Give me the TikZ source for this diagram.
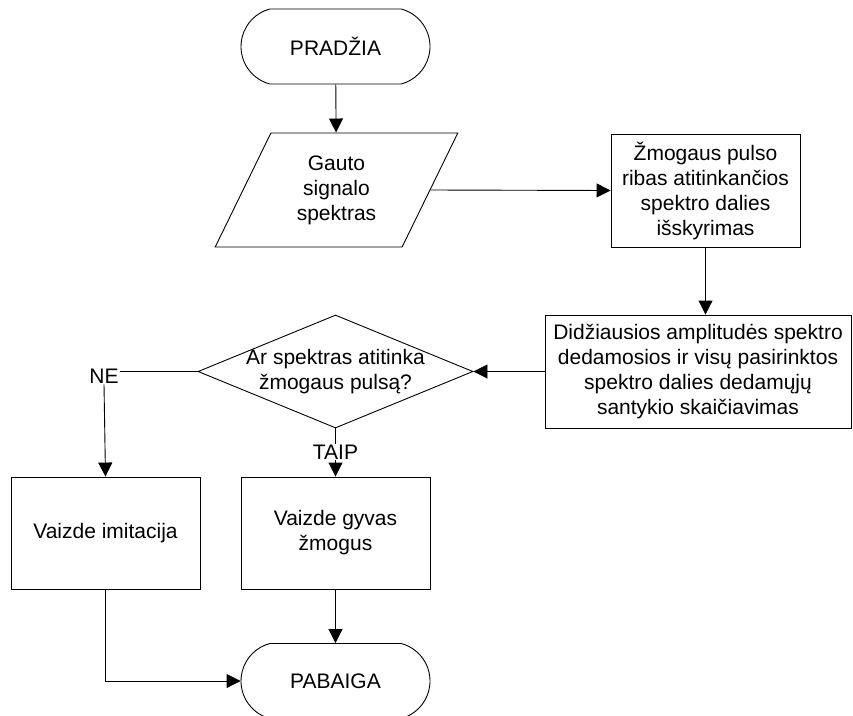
\documentclass[tikz,border=0pt]{standalone}
\usepackage{fontspec}
\setmainfont{Liberation Sans}
\usepackage{tikz}
\usetikzlibrary{shapes,shapes.geometric,shapes.misc,arrows.meta,calc}

\begin{document}
\begin{tikzpicture}[x=1pt,y=-1pt,
    every node/.style={font=\fontsize{21}{25}\selectfont, align=center},
    terminal/.style={draw, line width=0.9pt, rounded rectangle, rounded rectangle arc length=150,
        minimum width=189pt, minimum height=75pt, inner sep=0pt},
    io/.style={draw, line width=0.9pt, trapezium, trapezium left angle=64, trapezium right angle=116,
        trapezium stretches=true, minimum width=243pt, minimum height=114pt, inner sep=0pt},
    proc/.style={draw, line width=0.9pt, rectangle, minimum height=113pt, inner sep=0pt},
    decision/.style={draw, line width=0.9pt, diamond, minimum width=275pt, minimum height=113pt, inner sep=0pt},
    arr/.style={line width=0.9pt, -{Triangle[length=14pt,width=14pt]}},
    lin/.style={line width=0.9pt}]
    \useasboundingbox (0,0) rectangle (853,715);

    % Start
    \node[terminal] (start) at (335.5,46.5) {PRADŽIA};

    % Input spectrum
    \node[io] (spec) at (336.5,190) {Gauto\\signalo\\spektras};

    % Processing
    \node[proc, minimum width=189pt] (pulse) at (705.5,190.5) {Žmogaus pulso\\ribas atitinkančios\\spektro dalies\\išskyrimas};
    \node[proc, minimum width=306pt] (ratio) at (698,371.5) {Didžiausios amplitudės spektro\\dedamosios ir visų pasirinktos\\spektro dalies dedamųjų\\santykio skaičiavimas};

    % Decision
    \node[decision, label={[align=center]center:Ar spektras atitinka\\žmogaus pulsą?}] (check) at (335.5,371.5) {};
    \node[inner sep=1pt] (ne) at (104,376) {NE};
    \node[inner sep=1pt] (taip) at (335.5,452) {TAIP};

    % Results
    \node[proc, minimum width=189pt, minimum height=112pt] (fake) at (105.5,533) {Vaizde imitacija};
    \node[proc, minimum width=189pt, minimum height=112pt] (live) at (335.5,533) {Vaizde gyvas\\žmogus};

    % End
    \node[terminal] (finish) at (335.5,681) {PABAIGA};

    % Connectors
    \draw[arr] (start) -- (spec);
    \draw[arr] (spec.east) -- (pulse.west);
    \draw[arr] (pulse.south) -- (pulse.south |- ratio.north);
    \draw[arr] (ratio.west) -- (check.east);
    \draw[lin] (check.west) -- (check.west -| ne.east);
    \draw[arr] (ne.south) -- (fake.north);
    \draw[lin] (check.south) -- (taip.north);
    \draw[arr] (taip.south) -- (live.north);
    \draw[arr] (live.south) -- (finish.north);
    \draw[arr] (fake.south) |- (finish.west);
\end{tikzpicture}
\end{document}
